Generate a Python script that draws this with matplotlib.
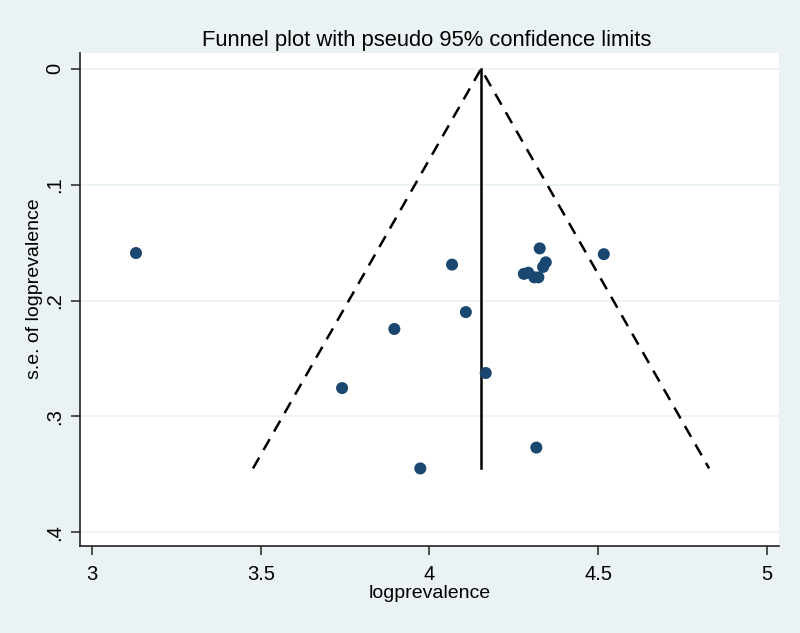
import matplotlib
matplotlib.use("Agg")
import matplotlib.pyplot as plt
import numpy as np

plt.rcParams['font.family'] = ['Liberation Sans', 'DejaVu Sans']

# Study data: log prevalence and its standard error
logprev = [3.130, 4.517, 4.067, 4.327, 4.345, 4.337, 4.280, 4.293, 4.311, 4.323,
           4.108, 3.741, 3.896, 4.167, 4.317, 3.973]
se = [0.159, 0.160, 0.169, 0.155, 0.167, 0.171, 0.177, 0.176, 0.180, 0.180,
      0.210, 0.2756, 0.2246, 0.2626, 0.327, 0.345]
pooled = 4.153

xticks = [3, 3.5, 4, 4.5, 5]
xticklabels = ['3', '3.5', '4', '4.5', '5']
yticks = [0, 0.1, 0.2, 0.3, 0.4]
yticklabels = ['0', '.1', '.2', '.3', '.4']

bg = '#EAF2F3'
fig = plt.figure(figsize=(8, 6.33), dpi=100, facecolor=bg)
ax = fig.add_axes([0.1, 0.1374, 0.874, 0.779])
ax.set_facecolor('white')

semax = max(se)
ax.plot([pooled, pooled], [0, semax], color='black', lw=1.8, zorder=2)
ax.plot([pooled - 1.96 * semax, pooled, pooled + 1.96 * semax], [semax, 0, semax],
        color='black', lw=1.8, ls=(0, (5, 3.5)), zorder=2)
ax.scatter(logprev, se, s=75, color='#1A476F', zorder=3, edgecolors='none')

ax.set_xlim(2.964, 5.037)
ax.set_ylim(0.412, -0.0138)
ax.set_xticks(xticks)
ax.set_xticklabels(xticklabels, fontsize=14.5)
ax.set_yticks(yticks)
ax.set_yticklabels(yticklabels, fontsize=14.5, rotation=90, va='center')
ax.yaxis.grid(True, color=bg, lw=1.2)
ax.set_axisbelow(True)
ax.tick_params(length=6.5, width=1.2, color='#333333')
ax.tick_params(axis='x', pad=7)
ax.tick_params(axis='y', pad=5)
for s in ['top', 'right']:
    ax.spines[s].set_visible(False)
for s in ['left', 'bottom']:
    ax.spines[s].set_linewidth(1.2)
    ax.spines[s].set_color('#222222')

ax.set_xlabel('logprevalence', fontsize=14, labelpad=1)
ax.set_ylabel('s.e. of logprevalence', fontsize=14, labelpad=6)
ax.yaxis.set_label_coords(-0.053, 0.522)
ax.set_title('Funnel plot with pseudo 95% confidence limits', fontsize=15.8, pad=5,
             x=0.496)

fig.savefig('out.png', dpi=100, facecolor=bg)
